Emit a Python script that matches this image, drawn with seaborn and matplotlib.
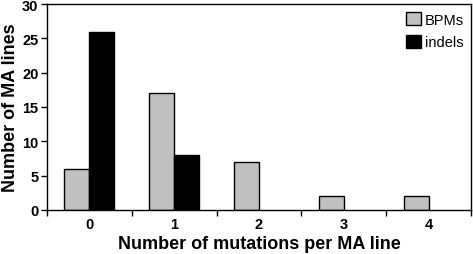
import numpy as np
import pandas as pd
import matplotlib
matplotlib.use("Agg")
import matplotlib.pyplot as plt
import seaborn as sns

# mutations per MA line
categories = ["0", "1", "2", "3", "4"]
bpms = [6, 17, 7, 2, 2]
indels = [26, 8, 0, 0, 0]

df = pd.DataFrame({
    "mutations": categories * 2,
    "count": bpms + indels,
    "type": ["BPMs"] * len(categories) + ["indels"] * len(categories),
})

sns.set_style("white")
plt.rcParams["font.family"] = ["Liberation Sans", "DejaVu Sans"]
plt.rcParams["text.color"] = "black"
plt.rcParams["axes.labelcolor"] = "black"
plt.rcParams["xtick.color"] = "black"
plt.rcParams["ytick.color"] = "black"

fig = plt.figure(figsize=(4.73, 2.55), dpi=100)
ax = fig.add_axes([0.099, 0.173, 0.897, 0.807])

sns.barplot(data=df, x="mutations", y="count", hue="type",
            palette=["#c0c0c0", "#000000"], width=0.59,
            edgecolor="black", linewidth=1.0, ax=ax)

# empty categories show no bar at all
for cont in ax.containers:
    for bar in cont:
        if bar.get_height() == 0:
            bar.set_visible(False)

ax.set_ylim(0, 30)
ax.set_yticks(np.arange(0, 31, 5))
ax.set_xlim(-0.5, 4.5)

# tick marks sit between the categories, labels at the centres
ax.set_xticks(np.arange(-0.5, 4.6, 1.0), minor=False)
ax.set_xticklabels([])
ax.set_xticks(range(len(categories)), minor=True)
ax.set_xticklabels(categories, minor=True)
ax.tick_params(axis="x", which="major", direction="out", length=4, width=1, bottom=True)
ax.tick_params(axis="x", which="minor", length=0, labelsize=10.5, pad=5)
ax.tick_params(axis="y", direction="out", length=4, width=1, left=True, labelsize=10.5, pad=2)
for lab in ax.get_xticklabels(minor=True) + ax.get_yticklabels():
    lab.set_fontweight("bold")

for s in ax.spines.values():
    s.set_visible(True)
    s.set_color("black")
    s.set_linewidth(1.0)

ax.set_xlabel("Number of mutations per MA line", fontsize=13, fontweight="bold", labelpad=3)
ax.set_ylabel("Number of MA lines", fontsize=13, fontweight="bold", labelpad=2)

ax.legend(loc="upper right", frameon=False, fontsize=10.5, handlelength=1.0,
          handleheight=1.0, handletextpad=0.25, labelspacing=0.55,
          borderaxespad=0.2, borderpad=0.3, bbox_to_anchor=(1.0, 0.995))

fig.savefig("out.png", dpi=100)
